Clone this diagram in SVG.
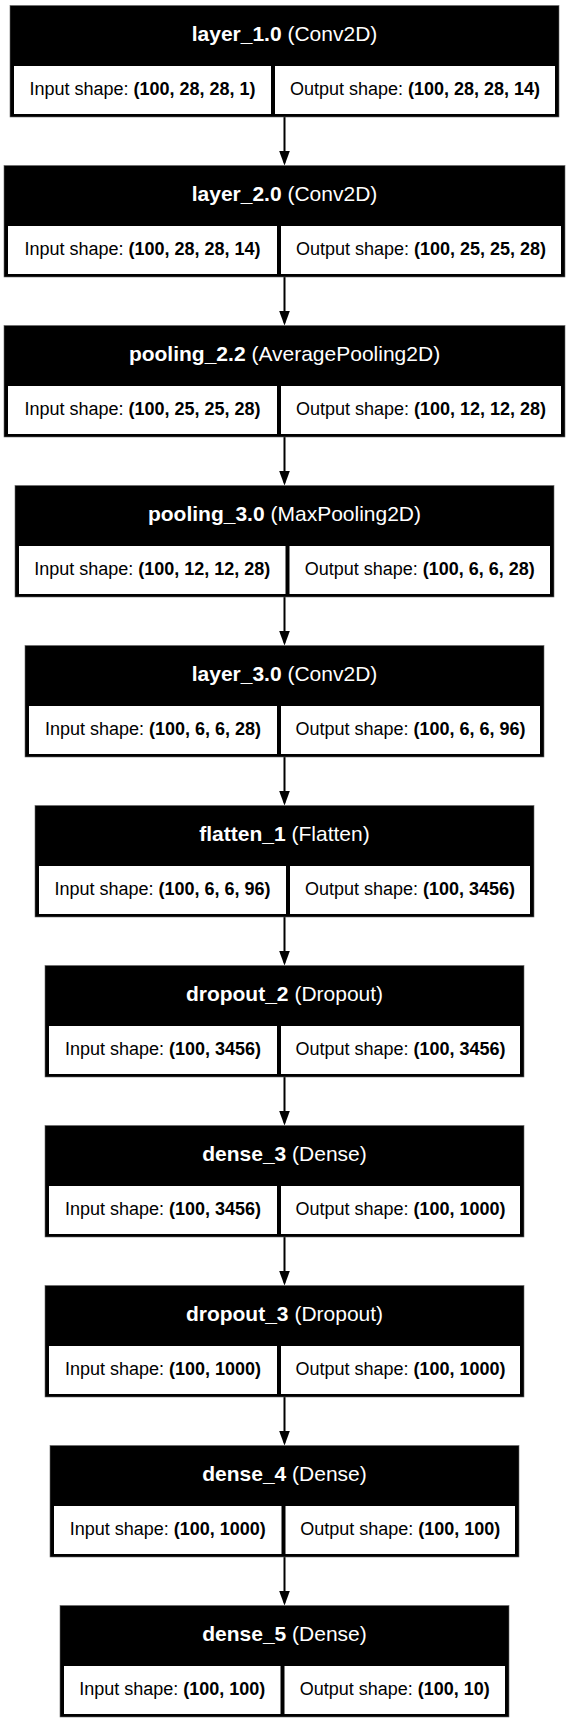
<svg xmlns="http://www.w3.org/2000/svg" width="569" height="1723" viewBox="0 0 569 1723">
<style>
.box{fill:#000;stroke:#666;stroke-width:0.6}
.cell{fill:#fff}
.hdr{font-family:"Liberation Sans",Arial,sans-serif;font-size:21px;fill:#fff;text-anchor:middle}
.txt{font-family:"Liberation Sans",Arial,sans-serif;font-size:18px;fill:#000;text-anchor:middle}
.b{font-weight:bold}
.edge{stroke:#000;stroke-width:2;fill:none}
</style>
<defs>
<marker id="arr" viewBox="0 0 15 11" refX="12" refY="5.5" markerWidth="15" markerHeight="11" markerUnits="userSpaceOnUse" orient="auto">
<path d="M0,0 L15,5.5 L0,11 z" fill="#000"/>
</marker>
</defs>
<rect width="569" height="1723" fill="#fff"/>
<g id="connectors">
<line class="edge" x1="284.5" y1="117" x2="284.5" y2="162.5" marker-end="url(#arr)"/>
<line class="edge" x1="284.5" y1="277" x2="284.5" y2="322.5" marker-end="url(#arr)"/>
<line class="edge" x1="284.5" y1="437" x2="284.5" y2="482.5" marker-end="url(#arr)"/>
<line class="edge" x1="284.5" y1="597" x2="284.5" y2="642.5" marker-end="url(#arr)"/>
<line class="edge" x1="284.5" y1="757" x2="284.5" y2="802.5" marker-end="url(#arr)"/>
<line class="edge" x1="284.5" y1="917" x2="284.5" y2="962.5" marker-end="url(#arr)"/>
<line class="edge" x1="284.5" y1="1077" x2="284.5" y2="1122.5" marker-end="url(#arr)"/>
<line class="edge" x1="284.5" y1="1237" x2="284.5" y2="1282.5" marker-end="url(#arr)"/>
<line class="edge" x1="284.5" y1="1397" x2="284.5" y2="1442.5" marker-end="url(#arr)"/>
<line class="edge" x1="284.5" y1="1557" x2="284.5" y2="1602.5" marker-end="url(#arr)"/>
</g>
<g id="node1">
<rect class="box" x="10" y="5.5" width="549" height="111.5"/>
<rect class="cell" x="14" y="66" width="257" height="48"/>
<rect class="cell" x="275" y="66" width="280" height="48"/>
<text class="hdr" x="284.5" y="40.5"><tspan class="b">layer_1.0</tspan> (Conv2D)</text>
<text class="txt" x="142.5" y="95.3">Input shape: <tspan class="b">(100, 28, 28, 1)</tspan></text>
<text class="txt" x="415" y="95.3">Output shape: <tspan class="b">(100, 28, 28, 14)</tspan></text>
</g>
<g id="node2">
<rect class="box" x="4" y="165.5" width="561" height="111.5"/>
<rect class="cell" x="8" y="226" width="269" height="48"/>
<rect class="cell" x="281" y="226" width="280" height="48"/>
<text class="hdr" x="284.5" y="200.5"><tspan class="b">layer_2.0</tspan> (Conv2D)</text>
<text class="txt" x="142.5" y="255.3">Input shape: <tspan class="b">(100, 28, 28, 14)</tspan></text>
<text class="txt" x="421" y="255.3">Output shape: <tspan class="b">(100, 25, 25, 28)</tspan></text>
</g>
<g id="node3">
<rect class="box" x="4" y="325.5" width="561" height="111.5"/>
<rect class="cell" x="8" y="386" width="269" height="48"/>
<rect class="cell" x="281" y="386" width="280" height="48"/>
<text class="hdr" x="284.5" y="360.5"><tspan class="b">pooling_2.2</tspan> (AveragePooling2D)</text>
<text class="txt" x="142.5" y="415.3">Input shape: <tspan class="b">(100, 25, 25, 28)</tspan></text>
<text class="txt" x="421" y="415.3">Output shape: <tspan class="b">(100, 12, 12, 28)</tspan></text>
</g>
<g id="node4">
<rect class="box" x="15" y="485.5" width="539" height="111.5"/>
<rect class="cell" x="19" y="546" width="266.5" height="48"/>
<rect class="cell" x="289.5" y="546" width="260.5" height="48"/>
<text class="hdr" x="284.5" y="520.5"><tspan class="b">pooling_3.0</tspan> (MaxPooling2D)</text>
<text class="txt" x="152.25" y="575.3">Input shape: <tspan class="b">(100, 12, 12, 28)</tspan></text>
<text class="txt" x="419.75" y="575.3">Output shape: <tspan class="b">(100, 6, 6, 28)</tspan></text>
</g>
<g id="node5">
<rect class="box" x="25" y="645.5" width="519" height="111.5"/>
<rect class="cell" x="29" y="706" width="248" height="48"/>
<rect class="cell" x="281" y="706" width="259" height="48"/>
<text class="hdr" x="284.5" y="680.5"><tspan class="b">layer_3.0</tspan> (Conv2D)</text>
<text class="txt" x="153" y="735.3">Input shape: <tspan class="b">(100, 6, 6, 28)</tspan></text>
<text class="txt" x="410.5" y="735.3">Output shape: <tspan class="b">(100, 6, 6, 96)</tspan></text>
</g>
<g id="node6">
<rect class="box" x="35" y="805.5" width="499" height="111.5"/>
<rect class="cell" x="39" y="866" width="247" height="48"/>
<rect class="cell" x="290" y="866" width="240" height="48"/>
<text class="hdr" x="284.5" y="840.5"><tspan class="b">flatten_1</tspan> (Flatten)</text>
<text class="txt" x="162.5" y="895.3">Input shape: <tspan class="b">(100, 6, 6, 96)</tspan></text>
<text class="txt" x="410" y="895.3">Output shape: <tspan class="b">(100, 3456)</tspan></text>
</g>
<g id="node7">
<rect class="box" x="45" y="965.5" width="479" height="111.5"/>
<rect class="cell" x="49" y="1026" width="228" height="48"/>
<rect class="cell" x="281" y="1026" width="239" height="48"/>
<text class="hdr" x="284.5" y="1000.5"><tspan class="b">dropout_2</tspan> (Dropout)</text>
<text class="txt" x="163" y="1055.3">Input shape: <tspan class="b">(100, 3456)</tspan></text>
<text class="txt" x="400.5" y="1055.3">Output shape: <tspan class="b">(100, 3456)</tspan></text>
</g>
<g id="node8">
<rect class="box" x="45" y="1125.5" width="479" height="111.5"/>
<rect class="cell" x="49" y="1186" width="228" height="48"/>
<rect class="cell" x="281" y="1186" width="239" height="48"/>
<text class="hdr" x="284.5" y="1160.5"><tspan class="b">dense_3</tspan> (Dense)</text>
<text class="txt" x="163" y="1215.3">Input shape: <tspan class="b">(100, 3456)</tspan></text>
<text class="txt" x="400.5" y="1215.3">Output shape: <tspan class="b">(100, 1000)</tspan></text>
</g>
<g id="node9">
<rect class="box" x="45" y="1285.5" width="479" height="111.5"/>
<rect class="cell" x="49" y="1346" width="228" height="48"/>
<rect class="cell" x="281" y="1346" width="239" height="48"/>
<text class="hdr" x="284.5" y="1320.5"><tspan class="b">dropout_3</tspan> (Dropout)</text>
<text class="txt" x="163" y="1375.3">Input shape: <tspan class="b">(100, 1000)</tspan></text>
<text class="txt" x="400.5" y="1375.3">Output shape: <tspan class="b">(100, 1000)</tspan></text>
</g>
<g id="node10">
<rect class="box" x="50" y="1445.5" width="469" height="111.5"/>
<rect class="cell" x="54" y="1506" width="227.5" height="48"/>
<rect class="cell" x="285.5" y="1506" width="229.5" height="48"/>
<text class="hdr" x="284.5" y="1480.5"><tspan class="b">dense_4</tspan> (Dense)</text>
<text class="txt" x="167.75" y="1535.3">Input shape: <tspan class="b">(100, 1000)</tspan></text>
<text class="txt" x="400.25" y="1535.3">Output shape: <tspan class="b">(100, 100)</tspan></text>
</g>
<g id="node11">
<rect class="box" x="60" y="1605.5" width="449" height="111.5"/>
<rect class="cell" x="64" y="1666" width="216.5" height="48"/>
<rect class="cell" x="284.5" y="1666" width="220.5" height="48"/>
<text class="hdr" x="284.5" y="1640.5"><tspan class="b">dense_5</tspan> (Dense)</text>
<text class="txt" x="172.25" y="1695.3">Input shape: <tspan class="b">(100, 100)</tspan></text>
<text class="txt" x="394.75" y="1695.3">Output shape: <tspan class="b">(100, 10)</tspan></text>
</g>
</svg>
